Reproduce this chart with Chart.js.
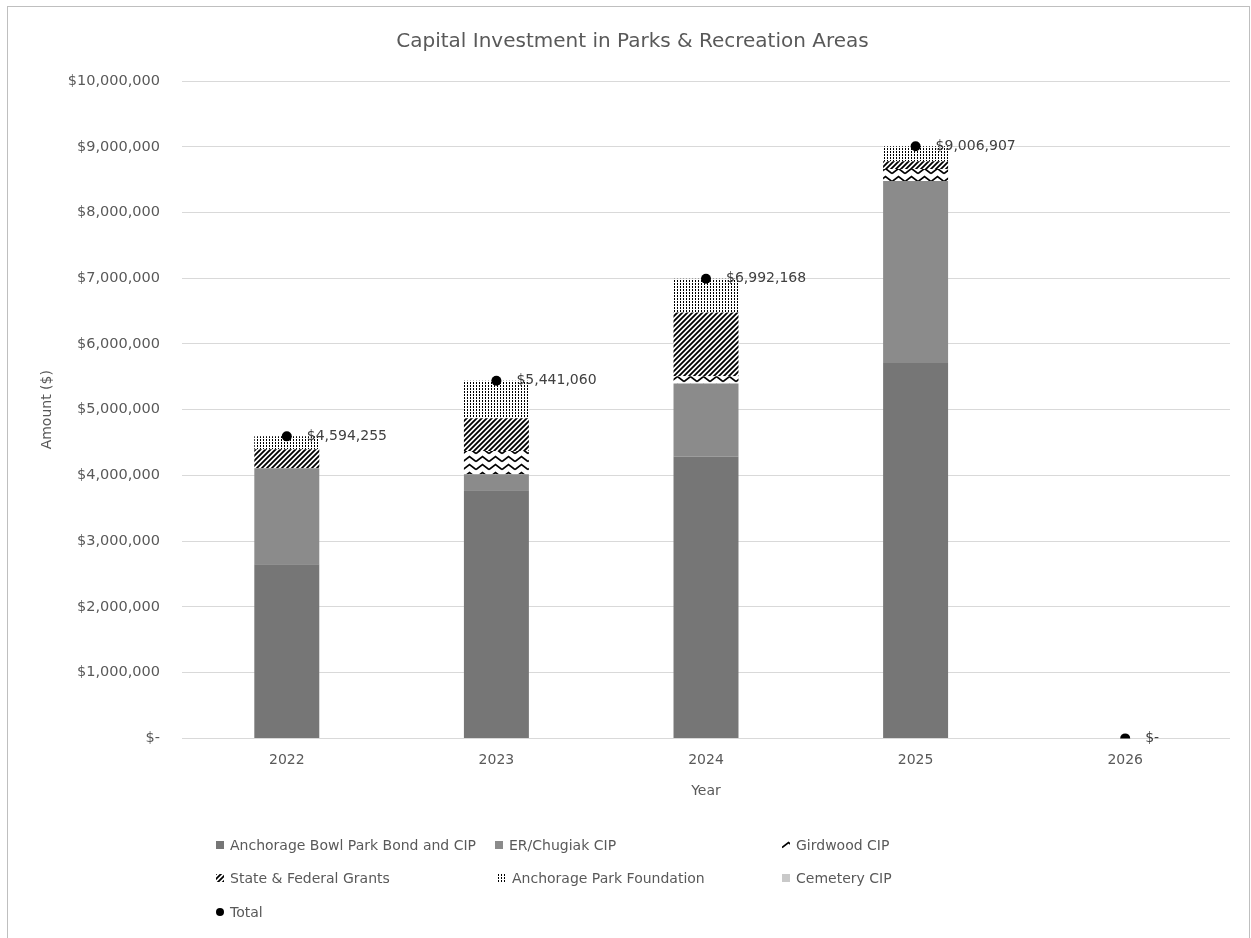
<!DOCTYPE html>
<html>
<head>
<meta charset="utf-8">
<script src="https://cdn.jsdelivr.net/npm/chart.js@4.4.1/dist/chart.umd.min.js"></script>
<style>
  body { margin: 0; background: #fff; overflow: hidden; font-family: "DejaVu Sans", sans-serif; }
  #box { position: absolute; left: 7px; top: 6px; width: 1241px; height: 940px; border: 1px solid #bfbfbf; }
  #wrap { position: absolute; left: 0; top: 0; width: 1241px; height: 931px; }
  .sw { position: absolute; }
  .lbl { position: absolute; font-size: 14px; line-height: 16px; color: #595959; white-space: nowrap; }
</style>
</head>
<body>
<div id="box"><div id="wrap"><canvas id="chart"></canvas></div></div>
<div id="legend"></div>
<script>
// waarden
const years = ['2022', '2023', '2024', '2025', '2026'];
const anchorageBowl = [2650000, 3775000, 4290000, 5710000, 0];
const erChugiak = [1460000, 245000, 1110000, 2770000, 0];
const girdwood = [0, 350000, 110000, 180000, 0];
const stateFederal = [290000, 500000, 970000, 120000, 0];
const parkFoundation = [194255, 571060, 512168, 226907, 0];
const cemetery = [0, 0, 0, 0, 0];
const totals = [4594255, 5441060, 6992168, 9006907, 0];
const yTicks = [0, 1000000, 10000000];

const FONT = '"DejaVu Sans", sans-serif';
const GREY = '#595959';

function money(v) {
  return v === 0 ? '$-' : '$' + v.toLocaleString('en-US');
}

// patronen voor de gearceerde reeksen
function makePattern(kind) {
  const c = document.createElement('canvas');
  const g = c.getContext('2d');
  if (kind === 'zigzag') {
    c.width = 13; c.height = 8;
    g.fillStyle = '#fff'; g.fillRect(0, 0, 13, 8);
    g.strokeStyle = '#000'; g.lineWidth = 1.6;
    g.beginPath(); g.moveTo(0, 6.5); g.lineTo(6.5, 1.5); g.lineTo(13, 6.5); g.stroke();
  } else if (kind === 'diag') {
    c.width = 5; c.height = 5;
    g.fillStyle = '#fff'; g.fillRect(0, 0, 5, 5);
    g.strokeStyle = '#000'; g.lineWidth = 1.8;
    g.beginPath();
    g.moveTo(-1, 6); g.lineTo(6, -1);
    g.moveTo(-1, 1); g.lineTo(1, -1);
    g.moveTo(4, 6); g.lineTo(6, 4);
    g.stroke();
  } else {
    c.width = 3; c.height = 3;
    g.fillStyle = '#fff'; g.fillRect(0, 0, 3, 3);
    g.fillStyle = '#000'; g.fillRect(0, 0, 1, 2);
  }
  return g.createPattern(c, 'repeat');
}

const zigzag = makePattern('zigzag');
const diag = makePattern('diag');
const dots = makePattern('dots');

const datasets = [
  { label: 'Anchorage Bowl Park Bond and CIP', data: anchorageBowl, backgroundColor: '#767676' },
  { label: 'ER/Chugiak CIP', data: erChugiak, backgroundColor: '#8b8b8b' },
  { label: 'Girdwood CIP', data: girdwood, backgroundColor: zigzag },
  { label: 'State & Federal Grants', data: stateFederal, backgroundColor: diag },
  { label: 'Anchorage Park Foundation', data: parkFoundation, backgroundColor: dots },
  { label: 'Cemetery CIP', data: cemetery, backgroundColor: '#c9c9c9' }
].map(d => Object.assign(d, { order: 1, barPercentage: 0.31, categoryPercentage: 1, borderWidth: 0 }));

datasets.push({
  type: 'line', label: 'Total', data: totals, stack: 'total', order: 0,
  showLine: false, pointRadius: 5, pointBackgroundColor: '#000', pointBorderWidth: 0, borderColor: '#000'
});

const totalLabels = {
  id: 'totalLabels',
  afterDatasetsDraw(chart) {
    const idx = chart.data.datasets.findIndex(d => d.label === 'Total');
    const meta = chart.getDatasetMeta(idx);
    const g = chart.ctx;
    g.save();
    g.font = '14px ' + FONT;
    g.fillStyle = '#404040';
    g.textAlign = 'left';
    g.textBaseline = 'middle';
    meta.data.forEach((pt, i) => g.fillText(money(totals[i]), pt.x + 20, pt.y));
    g.restore();
  }
};

const ctx = document.getElementById('chart').getContext('2d');
new Chart(ctx, {
  type: 'bar',
  data: { labels: years, datasets: datasets },
  options: {
    responsive: true,
    maintainAspectRatio: false,
    animation: false,
    layout: { padding: { left: 27, right: 19, top: 0, bottom: 134 } },
    plugins: {
      legend: { display: false },
      tooltip: { enabled: false },
      title: {
        display: true,
        text: 'Capital Investment in Parks & Recreation Areas',
        color: GREY,
        font: { family: FONT, size: 20, weight: 'normal' },
        padding: { top: 23, bottom: 27 }
      }
    },
    scales: {
      x: {
        stacked: true,
        grid: { display: false },
        border: { display: false },
        ticks: { color: GREY, font: { family: FONT, size: 14 }, padding: 6 },
        title: { display: true, text: 'Year', color: GREY, font: { family: FONT, size: 14 }, padding: { top: 8, bottom: 4 } }
      },
      y: {
        stacked: true,
        min: yTicks[0],
        max: yTicks[2],
        afterFit(scale) { scale.width = 147; },
        grid: { color: '#d9d9d9', drawTicks: false },
        border: { display: false },
        ticks: { stepSize: yTicks[1], callback: v => money(v), color: GREY, font: { family: FONT, size: 14.5 }, padding: 22 },
        title: { display: true, text: 'Amount ($)', color: GREY, font: { family: FONT, size: 14 } }
      }
    }
  },
  plugins: [totalLabels]
});

// legenda in drie kolommen zoals in Excel
const slots = [[216, 845], [495, 845], [782, 845], [216, 878], [498, 878], [782, 878], [216, 912]];
const legend = document.getElementById('legend');
datasets.forEach((d, i) => {
  const [x, y] = slots[i];
  const sw = document.createElement('canvas');
  sw.className = 'sw';
  sw.width = 8; sw.height = 8;
  sw.style.left = x + 'px';
  sw.style.top = (y - 4) + 'px';
  const g = sw.getContext('2d');
  if (d.label === 'Total') {
    g.fillStyle = '#000';
    g.beginPath(); g.arc(4, 4, 4, 0, Math.PI * 2); g.fill();
  } else {
    g.fillStyle = d.backgroundColor;
    g.fillRect(0, 0, 8, 8);
  }
  legend.appendChild(sw);
  const t = document.createElement('span');
  t.className = 'lbl';
  t.textContent = d.label;
  t.style.left = (x + 14) + 'px';
  t.style.top = (y - 8) + 'px';
  legend.appendChild(t);
});
</script>
</body>
</html>
